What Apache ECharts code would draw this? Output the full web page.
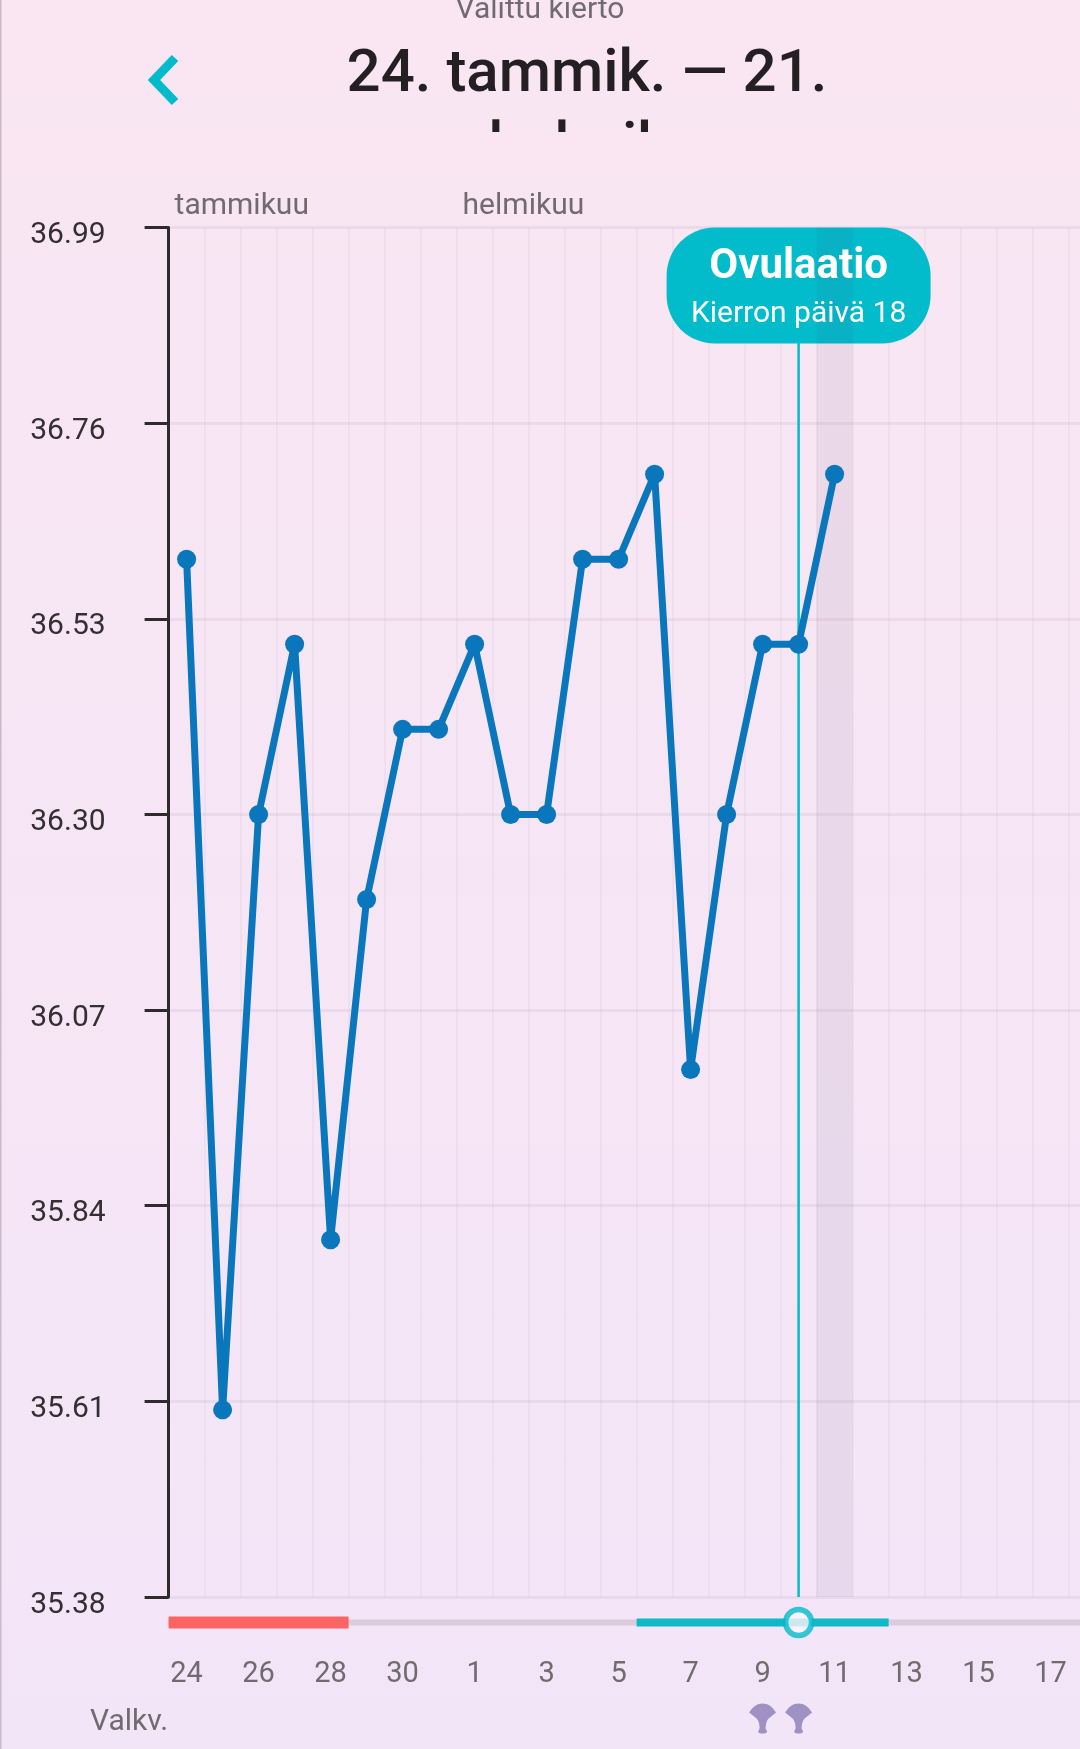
<!DOCTYPE html>
<html><head><meta charset="utf-8">
<style>html,body{margin:0;padding:0;background:#f6e6f5}#c{width:1080px;height:1749px}</style>
<script src="https://cdn.jsdelivr.net/npm/echarts@6/dist/echarts.min.js"></script>
</head><body><div id="c"></div>
<script>
const days = ['24','25','26','27','28','29','30','31','1','2','3','4','5','6','7','8','9','10','11','12','13','14','15','16','17','18'];
const temperatures = [36.6,35.6,36.3,36.5,35.8,36.2,36.4,36.4,36.5,36.3,36.3,36.6,36.6,36.7,36.0,36.3,36.5,36.5,36.7];
const yTicks = [35.38,35.61,35.84,36.07,36.30,36.53,36.76,36.99];
const months = [['24','tammikuu'],['1','helmikuu']];
const periodDays = ['24','28'];
const fertileDays = ['6','12'];
const ovulationDay = '10';
const highlightDay = '11';
const testDays = ['9','10'];
const F = 'Roboto';
const TEAL = '#02bccb', GREY = '#716b70', DARK = '#2f2a2e', BLUE = '#0a76bb';
const bg = new echarts.graphic.LinearGradient(0,0,0,1,[{offset:0,color:'#f9e6f2'},{offset:1,color:'#f3e5f8'}]);
const fan = 'path://M0 9C4 3 8 0 13.5 0C19 0 23 3 27 9L19.5 15C17.5 17 16.5 21 16.5 25L18 28C18 29.5 16 30 13.5 30C11 30 9 29.5 9 28L10.5 25C10.5 21 9.5 17 7.5 15Z';
const chart = echarts.init(document.getElementById('c'), null, {renderer:'canvas'});
const axisX = (gridIndex, labels) => ({
  type:'category', gridIndex, data:days, boundaryGap:true,
  axisLine:{show:false}, axisTick:{show:false},
  axisLabel: labels ? {show:true, interval:1, margin:63, fontFamily:F, fontSize:29, color:GREY} : {show:false},
  splitLine: labels ? {show:true, interval:0, lineStyle:{color:'rgba(120,90,120,0.05)', width:2}} : {show:false}
});
chart.setOption({
  animation:false,
  backgroundColor:bg,
  grid:[
    {left:168.6, top:227.5, width:936, height:1369.5, outerBoundsMode:'none'},
    {left:168.6, top:1622.5, width:936, height:96, outerBoundsMode:'none'}
  ],
  xAxis:[axisX(0,true), axisX(1,false)],
  yAxis:[
    {type:'value', gridIndex:0, min:35.38, max:36.99,
     axisLine:{show:true, lineStyle:{color:DARK, width:3}},
     axisTick:{show:true, length:24, customValues:yTicks, lineStyle:{color:DARK, width:3}},
     axisLabel:{customValues:yTicks, margin:63, fontFamily:F, fontSize:30, color:'#352f33', verticalAlign:'top', lineHeight:16,
       formatter:v=>v.toFixed(2)},
     splitLine:{show:true, lineStyle:{color:'rgba(120,80,120,0.08)', width:3}}},
    {type:'value', gridIndex:1, min:0, max:1, show:false}
  ],
  series:[
    {type:'custom', name:'ovulation', xAxisIndex:0, yAxisIndex:0, z:1, clip:false,
     data:[[ovulationDay,36.99]],
     renderItem(p,api){
       const top = api.coord([ovulationDay,36.99]), bot = api.coord([ovulationDay,35.38]);
       const hl = api.coord([highlightDay,36.99]), band = api.size([1,0])[0];
       const cx = top[0];
       return {type:'group',children:[
         {type:'line',shape:{x1:cx,y1:top[1]+100,x2:cx,y2:bot[1]},style:{stroke:TEAL,lineWidth:2.5}},
         {type:'rect',shape:{x:cx-132,y:top[1],width:264,height:116,r:48},style:{fill:TEAL}},
         {type:'rect',shape:{x:hl[0]-band/2,y:top[1],width:band,height:bot[1]-top[1]},style:{fill:'rgba(90,70,110,0.08)'}},
         {type:'text',style:{text:'Ovulaatio',x:cx,y:top[1]+40,align:'center',verticalAlign:'middle',fill:'#fff',font:'700 42px '+F}},
         {type:'text',style:{text:'Kierron päivä 18',x:cx,y:top[1]+87,align:'center',verticalAlign:'middle',fill:'#fff',font:'400 30px '+F}}
       ]};
     }},
    {type:'custom', name:'months', xAxisIndex:0, yAxisIndex:0, z:2, clip:false,
     data:months.map(m=>[m[0],36.99,m[1]]),
     renderItem(p,api){
       const c = api.coord([api.value(0),36.99]), band = api.size([1,0])[0];
       return {type:'text',style:{text:months[p.dataIndex][1],x:c[0]-band/2+6,y:c[1]-21,align:'left',verticalAlign:'middle',fill:GREY,font:'400 30px '+F}};
     }},
    {type:'line', name:'temperature', xAxisIndex:0, yAxisIndex:0, z:5, data:temperatures,
     symbol:'circle', symbolSize:19, showSymbol:true, clip:false,
     lineStyle:{color:BLUE,width:7}, itemStyle:{color:BLUE}},
    {type:'custom', name:'strip', xAxisIndex:1, yAxisIndex:1, z:3, clip:false,
     data:[[0,1]],
     renderItem(p,api){
       const band = api.size([1,0])[0], y = api.coord(['24',1])[1];
       const span = (a,b)=>{const l=api.coord([a,1])[0]-band/2, r=api.coord([b,1])[0]+band/2; return [l,r-l];};
       const all = span('24','18'), red = span(periodDays[0],periodDays[1]), teal = span(fertileDays[0],fertileDays[1]);
       return {type:'group',children:[
         {type:'rect',shape:{x:all[0],y:y-3,width:all[1],height:6},style:{fill:'#dccbdc'}},
         {type:'rect',shape:{x:red[0],y:y-6,width:red[1],height:12},style:{fill:'#fd6464'}},
         {type:'rect',shape:{x:teal[0],y:y-4,width:teal[1],height:8},style:{fill:'#0fb9c7'}}
       ]};
     }},
    {type:'scatter', name:'ovulationMarker', xAxisIndex:1, yAxisIndex:1, z:6, clip:false,
     data:[[ovulationDay,1]], symbol:'circle', symbolSize:26,
     itemStyle:{color:'#fbf5fc',borderColor:TEAL,borderWidth:5.5}},
    {type:'scatter', name:'tests', xAxisIndex:1, yAxisIndex:1, z:6, clip:false,
     data:testDays.map(d=>[d,0]), symbol:fan, symbolSize:[27,30], symbolKeepAspect:false,
     itemStyle:{color:'#8b7cb8'}}
  ],
  graphic:[
    {type:'rect',left:0,top:0,z:12,shape:{width:1.5,height:1749},style:{fill:'#cbb9c8'}},
    {type:'text',x:540,y:10,z:10,style:{text:'Valittu kierto',align:'center',verticalAlign:'middle',fill:GREY,font:'400 30px '+F}},
    {type:'polyline',z:10,shape:{points:[[175,58],[154,80],[175,102]]},style:{stroke:TEAL,lineWidth:9,fill:null}},
    {type:'text',x:587,y:76,z:10,style:{text:'24. tammik. — 21.',align:'center',verticalAlign:'middle',fill:'#231f22',font:'500 60px '+F}},
    {type:'text',x:587,y:149,z:10,style:{text:'helmik.',align:'center',verticalAlign:'middle',fill:'#231f22',font:'500 60px '+F}},
    {type:'rect',left:2,top:132,z:11,shape:{width:1078,height:44},style:{fill:'#f9e6f2'}},
    {type:'text',x:90,y:1722,z:10,style:{text:'Valkv.',align:'left',verticalAlign:'middle',fill:GREY,font:'400 30px '+F}}
  ]
});
</script></body></html>
